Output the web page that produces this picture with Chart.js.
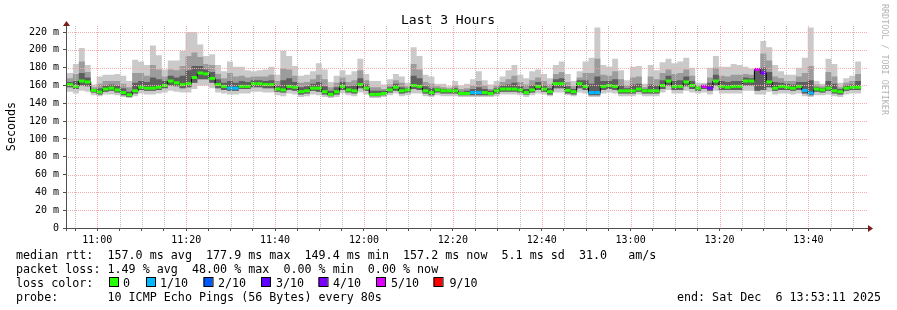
<!DOCTYPE html>
<html>
<head>
<meta charset="utf-8">
<script src="https://cdn.jsdelivr.net/npm/chart.js@4.4.1/dist/chart.umd.min.js"></script>
<style>
  html, body { margin: 0; padding: 0; background: #fff; }
  canvas { display: block; }
</style>
</head>
<body>
<canvas id="smoke" width="897" height="310"></canvas>
<script>
// 80 s steps starting at 10:53:11, values in ms
const stepMinutes = 80 / 60;
const startClock = [10, 53, 11];
const timeLabels = ['11:00', '11:20', '11:40', '12:00', '12:20', '12:40', '13:00', '13:20', '13:40'];

const medianRtt = [
  161,159,165,164,154.5,152.6,156,157,155,152,
  149.5,154,158,157,157,158,160,165,163,161,
  162,169,174,173,168,161,159,157,157,159,
  159,162,162,161,161,156,155,159,158,153,
  154,157,157,153,150,153,159,155,154,161,
  157,150,150,151,155,158,154,155,160,159,
  154,152,155,154,154,154,151,151,152,152,
  152,151,154,156,156,156,155,152,155,159,
  156,153,162,162,154.5,153,162,159,152,152,
  159,160,159,154,154,154,156,154,154,154,
  160,165,159,159,164,160,157,159,157,165,
  159,158,159,159,165,165,178,174,164,157,
  159,158,157,159,154.5,151.5,156,155,157,154,
  153,157,158,158
];
const pingMax = [
  174,184,202,183,161,170,172,172,173,171,
  165,189,187,183,205,194,178,188,188,199,
  220,220,206,193,195,183,176,187,181,181,
  177,176,177,178,181,172,199,193,182,171,
  172,176,185,178,164,171,177,172,176,190,
  173,165,165,161,167,173,170,163,203,193,
  172,170,162,162,159,165,160,162,167,176,
  166,161,165,170,177,183,172,168,176,178,
  173,168,183,187,173,165,176,187,191,225,
  183,181,190,177,166,181,182,162,183,177,
  186,190,185,187,191,180,163,163,180,193,
  181,181,184,183,181,179,180,210,203,183,
  176,172,172,180,191,225,165,162,190,184,
  163,168,171,187
];
const pingUpper = [
  168,173,187,175,158,162,165,165,165,162,
  158,174,174,171,183,178,170,178,177,182,
  193,197,192,184,183,173,168,174,170,171,
  169,170,170,170,172,165,179,178,171,163,
  164,167,172,167,158,163,169,164,166,177,
  166,158,158,156,161,166,163,159,184,178,
  164,162,159,158,157,160,156,157,160,165,
  160,156,160,164,167,171,164,161,166,169,
  165,161,173,175,164,159,169,174,174,190,
  172,171,176,167,160,169,170,158,170,167,
  174,178,173,174,178,171,160,161,169,180,
  171,170,172,172,173,172,179.5,196,188,170,
  168,165,165,170,174,182,161,159,175,170,
  158,163,165,173
];
const pingHigh = [
  164,165,174,169,156,157,160,161,160,157,
  153,163,165,164,169,167,165,171,169,171,
  177,182,182,178,175,167,163,165,163,165,
  164,166,166,165,166,160,166,168,164,158,
  159,162,164,159,154,158,164,159,160,168,
  161,154,154,154,158,162,158,157,171,168,
  159,157,157,156,155,157,153,154,156,158,
  156,154,157,160,161,163,159,156,160,164,
  160,157,167,168,159,156,166,166,162,170,
  165,165,167,160,157,161,162,156,161,160,
  166,171,165,166,170,165,158,160,163,172,
  165,164,165,165,169,168,179,180,175,164,
  163,162,161,164,164,166,158,157,165,162,
  156,160,161,165
];
const pingLow = [
  158,156,160,159,152,150,153,154,152,149,
  147,151,155,154,154,155,157,160,159,157,
  158,163,167,167,163,157,155,154,154,156,
  156,158,158,157,157,153,152,155,154,150,
  151,154,153,150,148,150,155,152,151,157,
  154,148,148,149,152,154,151,152,156,155,
  151,149,152,151,151,151,149,149,149,149,
  149,149,151,153,153,153,152,150,152,155,
  153,150,157,157,151,150,157,155,149,149,
  155,156,155,151,151,151,153,151,151,151,
  156,160,155,155,159,156,154,156,154,160,
  155,155,155,155,160,160,154,155,158,154,
  155,155,154,155,151,149,153,152,154,151,
  150,154,155,155
];
const pingMin = [
  153,151,154,153,149,148,150,150,149,147,
  146,148,151,150,150,151,152,154,153,152,
  152,156,160,160,157,152,151,150,150,151,
  151,153,153,152,152,149,148,151,150,147,
  148,150,149,147,146,147,151,149,148,152,
  150,146,146,147,149,151,148,149,151,151,
  148,147,149,148,148,148,147,147,147,147,
  147,147,148,150,150,150,149,147,149,151,
  150,148,152,152,149,148,152,151,147,147,
  151,152,151,148,148,148,150,148,148,148,
  152,155,151,151,154,152,151,152,150,154,
  151,151,151,151,154,154,150,150,153,150,
  151,151,150,151,148,147,149,149,150,148,
  147,150,151,151
];
// lost pings out of 10 per step
const lossCount = [
  0,0,0,0,0,0,0,0,0,0,
  0,0,0,0,0,0,0,0,0,0,
  0,0,0,0,0,0,0,1,1,0,
  0,0,0,0,0,0,0,0,0,0,
  0,0,0,0,0,0,0,0,0,0,
  0,0,0,0,0,0,0,0,0,0,
  0,0,0,0,0,0,0,0,1,1,
  0,0,0,0,0,0,0,0,0,0,
  0,0,0,0,0,0,0,0,1,1,
  0,0,0,0,0,0,0,0,0,0,
  0,0,0,0,0,0,0,5,4,0,
  0,0,0,0,0,0,5,4,0,0,
  0,0,0,0,1,1,0,0,0,0,
  0,0,0,0
];
const lossLegend = ['0', '1/10', '2/10', '3/10', '4/10', '5/10', '9/10'];
const lossColors = ['#26ff00', '#00b8ff', '#0059ff', '#5e00ff', '#7e00ff', '#dd00ff', '#ff0000'];

const legendLines = [
  'median rtt:  157.0 ms avg  177.9 ms max  149.4 ms min  157.2 ms now  5.1 ms sd  31.0   am/s',
  'packet loss: 1.49 % avg  48.00 % max  0.00 % min  0.00 % now',
  'loss color:',
  'probe:       10 ICMP Echo Pings (56 Bytes) every 80s'
];
const endText = 'end: Sat Dec  6 13:53:11 2025';

const MONO = '"DejaVu Sans Mono", monospace';
const MAJOR_GRID = '#f4acac';
const MINOR_GRID = '#c2c2c2';

function colorForLoss(n) {
  if (n <= 0) return lossColors[0];
  if (n <= 4) return lossColors[n];
  if (n <= 8) return lossColors[5];
  return lossColors[6];
}

// step line: one point per step start plus a closing point
function stepPoints(vals) {
  const pts = vals.map((v, i) => ({ x: i * stepMinutes, y: v }));
  pts.push({ x: vals.length * stepMinutes, y: vals[vals.length - 1] });
  return pts;
}

// separate horizontal pieces for the coloured median
function medianPieces(vals) {
  const pts = [];
  vals.forEach((v, i) => {
    pts.push({ x: i * stepMinutes, y: v });
    pts.push({ x: (i + 1) * stepMinutes, y: v });
    pts.push({ x: (i + 1) * stepMinutes, y: null });
  });
  return pts;
}

const startMin = startClock[0] * 60 + startClock[1] + startClock[2] / 60;
const firstTick = Math.ceil(startMin / 5) * 5 - startMin;
const isMajorX = v => Math.round(startMin + v) % 20 === 0;

const hidden = { borderWidth: 0, pointRadius: 0, stepped: true, fill: false };

const datasets = [
  Object.assign({ data: stepPoints(pingMin), order: 9 }, hidden),
  { data: stepPoints(pingMax), stepped: true, borderWidth: 0, pointRadius: 0,
    fill: '-1', backgroundColor: '#cacaca', order: 5 },
  Object.assign({ data: stepPoints(pingLow), order: 9 }, hidden),
  { data: stepPoints(pingUpper), stepped: true, borderWidth: 0, pointRadius: 0,
    fill: '-1', backgroundColor: '#9c9c9c', order: 4 },
  { data: stepPoints(pingHigh), stepped: true, borderWidth: 0, pointRadius: 0,
    fill: '-2', backgroundColor: '#5e5e5e', order: 3 },
  { data: stepPoints(medianRtt), stepped: true, borderWidth: 1, borderColor: '#000',
    pointRadius: 0, fill: false, order: 2 },
  { data: medianPieces(medianRtt), borderWidth: 3, pointRadius: 0, fill: false,
    spanGaps: false, borderCapStyle: 'butt', order: 1,
    segment: { borderColor: ctx => colorForLoss(lossCount[Math.floor(ctx.p0DataIndex / 3)]) } }
];

// dotted rrdtool-style grid, painted over the smoke
const dottedGrid = {
  id: 'dottedGrid',
  afterDatasetsDraw(chart) {
    const c = chart.ctx, a = chart.chartArea;
    const xs = chart.scales.x, ys = chart.scales.y;
    const L = Math.round(a.left), R = Math.round(a.right);
    const T = Math.round(a.top), B = Math.round(a.bottom);
    const rows = [], cols = [];
    ys.ticks.forEach(t => {
      if (t.value > 0) rows.push({ p: Math.round(ys.getPixelForValue(t.value)), major: t.value % 20 === 0 });
    });
    xs.ticks.forEach(t => {
      cols.push({ p: Math.round(xs.getPixelForValue(t.value)), major: isMajorX(t.value) });
    });
    c.save();
    [false, true].forEach(major => {
      c.fillStyle = major ? MAJOR_GRID : MINOR_GRID;
      rows.filter(r => r.major === major).forEach(r => {
        for (let x = L + 1; x < R; x += 2) c.fillRect(x, r.p, 1, 1);
      });
      cols.filter(k => k.major === major).forEach(k => {
        for (let y = B - 2; y > T; y -= 2) c.fillRect(k.p, y, 1, 1);
      });
    });
    c.restore();
  }
};

const decor = {
  id: 'decor',
  afterDraw(chart) {
    const c = chart.ctx, a = chart.chartArea;
    c.save();
    // axes
    c.strokeStyle = '#505050';
    c.lineWidth = 1;
    c.beginPath();
    c.moveTo(a.left - 0.5, a.bottom + 3);
    c.lineTo(a.left - 0.5, a.top - 2);
    c.moveTo(a.left - 4, a.bottom + 0.5);
    c.lineTo(a.right + 2, a.bottom + 0.5);
    c.stroke();
    // arrows
    c.fillStyle = '#7a1c1c';
    c.beginPath();
    c.moveTo(a.left - 4, a.top + 1);
    c.lineTo(a.left + 3, a.top + 1);
    c.lineTo(a.left - 0.5, a.top - 4);
    c.closePath();
    c.fill();
    c.beginPath();
    c.moveTo(a.right + 1, a.bottom - 3);
    c.lineTo(a.right + 1, a.bottom + 4);
    c.lineTo(a.right + 6, a.bottom + 0.5);
    c.closePath();
    c.fill();

    c.fillStyle = '#000';
    c.textBaseline = 'alphabetic';
    // title
    c.font = '13px ' + MONO;
    c.textAlign = 'center';
    c.fillText('Last 3 Hours', 448, 24);
    // vertical axis title
    c.font = '11.7px ' + MONO;
    c.save();
    c.translate(15, 126.5);
    c.rotate(-Math.PI / 2);
    c.fillText('Seconds', 0, 0);
    c.restore();
    // watermark
    c.save();
    c.fillStyle = '#b4b4b4';
    c.font = '8.4px ' + MONO;
    c.textAlign = 'left';
    c.translate(882, 4);
    c.rotate(Math.PI / 2);
    c.fillText('RRDTOOL / TOBI OETIKER', 0, 0);
    c.restore();
    // legend
    c.textAlign = 'left';
    const baselines = [258.8, 272.7, 286.6, 300.5];
    legendLines.forEach((t, i) => c.fillText(t, 16, baselines[i]));
    const boxX = [109, 146, 203.5, 261, 318.5, 376, 433.5];
    const textX = [123, 160, 218, 276, 333, 391, 449.5];
    lossLegend.forEach((t, i) => {
      c.fillStyle = lossColors[i];
      c.fillRect(boxX[i], 277.5, 9, 9);
      c.strokeStyle = '#000';
      c.strokeRect(boxX[i] + 0.5, 277.5, 9, 9);
      c.fillStyle = '#000';
      c.fillText(t, textX[i], baselines[2]);
    });
    c.textAlign = 'right';
    c.fillText(endText, 881, baselines[3]);
    c.restore();
  }
};

new Chart(document.getElementById('smoke'), {
  type: 'line',
  data: { datasets },
  plugins: [dottedGrid, decor],
  options: {
    responsive: false,
    animation: false,
    devicePixelRatio: 1,
    layout: { padding: { left: 0, right: 30, top: 25, bottom: 62 } },
    plugins: { legend: { display: false }, tooltip: { enabled: false } },
    scales: {
      x: {
        type: 'linear',
        min: 0,
        max: 180,
        afterBuildTicks: s => {
          const t = [];
          for (let v = firstTick; v < 180; v += 5) t.push({ value: v });
          s.ticks = t;
        },
        afterFit: s => { s.height = 20; },
        border: { display: false },
        grid: {
          drawOnChartArea: false,
          tickColor: '#505050',
          tickLength: 3
        },
        ticks: {
          autoSkip: false,
          maxRotation: 0,
          padding: 3,
          color: '#000',
          font: { family: MONO, size: 10 },
          callback: v => {
            const m = Math.round(startMin + v);
            if (m % 20 !== 0) return '';
            return timeLabels[(m - 660) / 20] || '';
          }
        }
      },
      y: {
        min: 0,
        max: 227.9,
        afterBuildTicks: s => {
          const t = [];
          for (let v = 0; v <= 220; v += 10) t.push({ value: v });
          s.ticks = t;
        },
        afterFit: s => { s.width = 67; },
        border: { display: false },
        grid: {
          drawOnChartArea: false,
          tickColor: '#505050',
          tickLength: 4
        },
        ticks: {
          padding: 4,
          color: '#000',
          font: { family: MONO, size: 10 },
          callback: v => (v % 20 !== 0) ? '' : (v === 0 ? '0' : v + ' m')
        }
      }
    }
  }
});
</script>
</body>
</html>
